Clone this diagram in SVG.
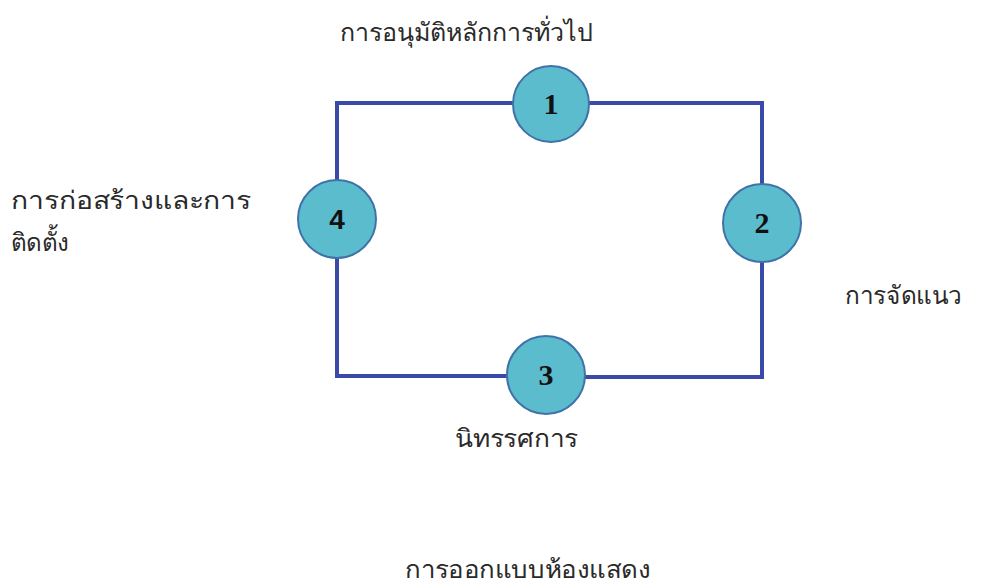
<svg xmlns="http://www.w3.org/2000/svg" width="981" height="586" viewBox="0 0 981 586">
<style>
.lbl{font-family:"Noto Sans","DejaVu Sans",sans-serif;font-size:25px;fill:#2a2a2a}
.num{font-family:"Liberation Serif",serif;font-weight:bold;font-size:30px;fill:#111;text-anchor:middle}
.c{fill:#5bbccd;stroke:#3f72a8;stroke-width:2}
.ln{fill:none;stroke:#3a4aa8;stroke-width:4}
</style>
<rect width="981" height="586" fill="#fff"/>
<g id="connectors">
<path class="ln" d="M337,219 V103 H551"/>
<path class="ln" d="M551,103 H762 V223"/>
<path class="ln" d="M762,223 V377 H546"/>
<path class="ln" d="M546,376 H337 V219"/>
</g>
<g id="node1"><circle class="c" cx="551" cy="104" r="38"/><text class="num" x="551" y="114">1</text></g>
<g id="node2"><circle class="c" cx="762" cy="223" r="39"/><text class="num" x="762" y="233">2</text></g>
<g id="node3"><circle class="c" cx="546" cy="375" r="39"/><text class="num" x="546" y="385">3</text></g>
<g id="node4"><circle class="c" cx="337" cy="219" r="39"/><text class="num" x="337" y="229" style="font-family:'Liberation Sans',sans-serif;font-size:28px">4</text></g>
<g id="labels">
<text class="lbl" x="340" y="41" textLength="253" lengthAdjust="spacingAndGlyphs">การอนุมัติหลักการทั่วไป</text>
<text class="lbl" x="11" y="209" textLength="240" lengthAdjust="spacingAndGlyphs">การก่อสร้างและการ</text>
<text class="lbl" x="11" y="251" textLength="58" lengthAdjust="spacingAndGlyphs">ติดตั้ง</text>
<text class="lbl" x="845" y="304" textLength="117" lengthAdjust="spacingAndGlyphs">การจัดแนว</text>
<text class="lbl" x="455" y="447" textLength="123" lengthAdjust="spacingAndGlyphs">นิทรรศการ</text>
<text class="lbl" x="405" y="578" textLength="245" lengthAdjust="spacingAndGlyphs">การออกแบบห้องแสดง</text>
</g>
</svg>
